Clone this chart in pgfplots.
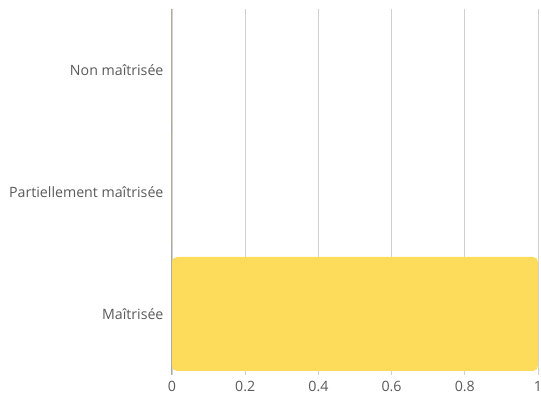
\documentclass[border=0pt]{standalone}
\usepackage{pgfplots}
\pgfplotsset{compat=1.18}
\usepackage{fontspec}
\setmainfont{Open Sans}

\definecolor{barYellow}{HTML}{FDDC5C}
\definecolor{gridGray}{HTML}{D0D0D0}
\definecolor{zeroGray}{HTML}{A8A8A8}
\definecolor{labelGray}{HTML}{5A5A5A}

\begin{document}
\begin{tikzpicture}
\useasboundingbox (-172pt,-21pt) rectangle (369pt,375pt);
\begin{axis}[
  scale only axis,
  width=366pt, height=366pt,
  xmin=0, xmax=1,
  ymin=-0.5, ymax=2.5,
  xtick={0,0.2,0.4,0.6,0.8,1},
  ytick={0,1,2},
  yticklabels={Maîtrisée, Partiellement maîtrisée, Non maîtrisée},
  axis line style={draw=none},
  major tick length=0pt,
  xmajorgrids,
  grid style={gridGray, line width=0.8pt},
  extra x ticks={0},
  extra x tick labels={},
  extra x tick style={grid style={zeroGray, line width=1pt}},
  tick label style={font=\fontsize{14.2}{16}\selectfont, text=labelGray},
  /pgf/number format/assume math mode=true,
  xticklabel style={yshift=-3pt},
  yticklabel style={xshift=-5pt},
  xbar,
  bar width=114pt,
]
\addplot[fill=barYellow, draw=none, rounded corners=5pt] coordinates {
  (1,0) (0,1) (0,2)
};
\end{axis}
\end{tikzpicture}
\end{document}
